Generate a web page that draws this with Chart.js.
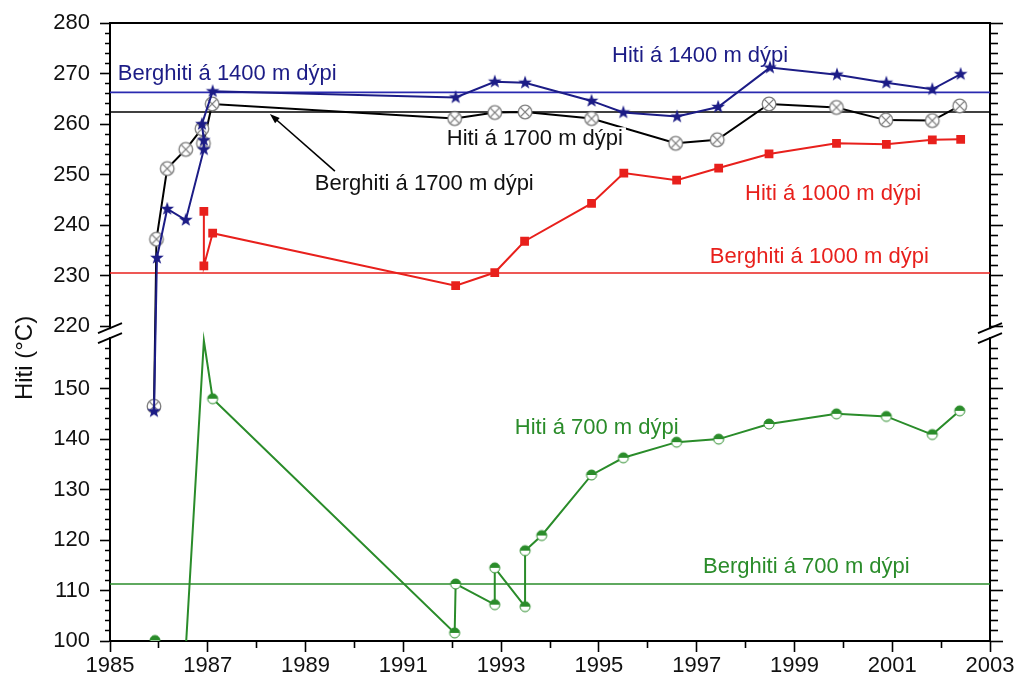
<!DOCTYPE html>
<html>
<head>
<meta charset="utf-8">
<script src="https://cdn.jsdelivr.net/npm/chart.js@4.4.1/dist/chart.umd.min.js"></script>
<style>
  html, body { margin: 0; padding: 0; background: #fff; }
  #wrap { width: 1020px; height: 683px; }
</style>
</head>
<body>
<div id="wrap"><canvas id="hitiChart" width="1020" height="683"></canvas></div>
<script>
/* mælingar – lesið af myndinni (ár, °C) */
const years1400 = [1985.9, 1985.96, 1986.17, 1986.55, 1986.92, 1986.92, 1986.88, 1987.1, 1992.07, 1992.87, 1993.49, 1994.85, 1995.5, 1996.6, 1997.44, 1998.5, 1999.87, 2000.88, 2001.82, 2002.4];
const temp1400  = [145.5, 233.5, 243.2, 241.0, 255.0, 256.8, 260.0, 266.5, 265.3, 268.4, 268.2, 264.6, 262.3, 261.5, 263.4, 271.2, 269.8, 268.2, 266.9, 269.9];

const years1700 = [1985.9, 1985.95, 1986.17, 1986.55, 1986.88, 1986.91, 1987.09, 1992.05, 1992.87, 1993.49, 1994.85, 1996.57, 1997.42, 1998.48, 1999.86, 2000.87, 2001.82, 2002.38];
const temp1700  = [146.5, 237.2, 251.2, 255.0, 259.1, 256.2, 264.0, 261.1, 262.3, 262.4, 261.1, 256.2, 256.9, 264.0, 263.3, 260.8, 260.7, 263.6];

const years1000 = [1986.92, 1986.92, 1987.1, 1992.07, 1992.87, 1993.48, 1994.85, 1995.51, 1996.59, 1997.45, 1998.48, 1999.86, 2000.88, 2001.82, 2002.4];
const temp1000  = [242.7, 231.9, 238.4, 228.0, 230.6, 236.8, 244.3, 250.3, 248.9, 251.3, 254.1, 256.2, 256.0, 256.9, 257.0];

const years700 = [1985.92, 1986.55, 1986.92, 1987.1, 1992.05, 1992.07, 1992.87, 1992.87, 1993.49, 1993.49, 1993.83, 1994.85, 1995.5, 1996.59, 1997.45, 1998.48, 1999.86, 2000.88, 2001.82, 2002.38];
const temp700  = [100.1, 98.5, 159.5, 148.0, 101.6, 111.3, 107.2, 114.5, 106.8, 117.9, 120.9, 132.9, 136.3, 139.4, 140.0, 143.0, 145.0, 144.5, 140.9, 145.6];

/* berghiti – láréttar línur */
const bergDepths = ['700', '1000', '1400', '1700'];
const bergTemps  = [111.3, 230.5, 266.3, 262.4];

/* ás-merkingar */
const xRange = [1985, 2003];
const yLabelsLow  = [100, 110, 120, 130, 140, 150];
const yLabelsHigh = [220, 230, 240, 250, 260, 270, 280];

/* brotinn y-ás: 160..217.6 er klippt út */
const BREAK_AT = 160;
const BREAK_SHIFT = 57.6;
const disp = v => (v > 190 ? v - BREAK_SHIFT : v);
const real = t => (t > BREAK_AT ? t + BREAK_SHIFT : t);

const yTickList = [];
for (let v = yLabelsLow[0]; v <= 158; v += 2) yTickList.push(v);
for (let v = yLabelsHigh[0]; v <= yLabelsHigh[yLabelsHigh.length - 1]; v += 2) yTickList.push(v);

const NAVY = '#1c1c86';
const BLUE = '#2a2ab0';
const RED = '#e8201c';
const GREEN = '#2a8c2a';
const FONT = '"Liberation Sans", Arial, sans-serif';

/* merki */
function markerCanvas(size, draw) {
    const c = document.createElement('canvas');
    c.width = c.height = size;
    const g = c.getContext('2d');
    g.translate(size / 2, size / 2);
    draw(g);
    return c;
}
const starMark = markerCanvas(16, g => {
    g.beginPath();
    for (let i = 0; i < 10; i++) {
        const r = i % 2 ? 2.9 : 7.2;
        const a = -Math.PI / 2 + i * Math.PI / 5;
        g.lineTo(r * Math.cos(a), r * Math.sin(a));
    }
    g.closePath();
    g.fillStyle = NAVY;
    g.fill();
});
const circXMark = markerCanvas(18, g => {
    g.beginPath();
    g.arc(0, 0, 6.8, 0, 2 * Math.PI);
    g.fillStyle = '#fff';
    g.fill();
    g.strokeStyle = '#7c7c7c';
    g.lineWidth = 1.3;
    g.stroke();
    const d = 4.6;
    g.beginPath();
    g.moveTo(-d, -d); g.lineTo(d, d);
    g.moveTo(d, -d); g.lineTo(-d, d);
    g.stroke();
});
const halfMark = markerCanvas(14, g => {
    g.beginPath();
    g.arc(0, 0, 5, 0, 2 * Math.PI);
    g.fillStyle = '#fff';
    g.fill();
    g.beginPath();
    g.arc(0, 0, 5, Math.PI, 2 * Math.PI);
    g.closePath();
    g.fillStyle = GREEN;
    g.fill();
    g.beginPath();
    g.arc(0, 0, 5, 0, 2 * Math.PI);
    g.strokeStyle = GREEN;
    g.lineWidth = 1;
    g.stroke();
});

const pts = (xs, ys) => xs.map((x, i) => ({ x: x, y: disp(ys[i]) }));

/* textar á myndinni (staðsetning í ár / °C) */
const textLabels = [
    { text: 'Berghiti á 1400 m dýpi', year: 1985.16, temp: 269.9, color: NAVY },
    { text: 'Hiti á 1400 m dýpi', year: 1995.27, temp: 273.5, color: NAVY },
    { text: 'Hiti á 1700 m dýpi', year: 1991.89, temp: 257.0, color: '#111', bg: true },
    { text: 'Berghiti á 1700 m dýpi', year: 1989.19, temp: 248.1, color: '#111' },
    { text: 'Hiti á 1000 m dýpi', year: 1997.99, temp: 246.1, color: RED },
    { text: 'Berghiti á 1000 m dýpi', year: 1997.27, temp: 233.7, color: RED },
    { text: 'Hiti á 700 m dýpi', year: 1993.28, temp: 142.2, color: GREEN },
    { text: 'Berghiti á 700 m dýpi', year: 1997.13, temp: 114.6, color: GREEN }
];
const arrow1700 = { from: [1989.6, 250.7], to: [1988.27, 262.0] };

const hitiPlugin = {
    id: 'hitiDecor',
    afterDatasetsDraw(chart) {
        const { ctx, scales: { x, y } } = chart;
        ctx.save();
        ctx.font = '22px ' + FONT;
        ctx.textBaseline = 'middle';
        textLabels.forEach(l => {
            const px = x.getPixelForValue(l.year);
            const py = y.getPixelForValue(disp(l.temp));
            if (l.bg) {
                const w = ctx.measureText(l.text).width;
                ctx.fillStyle = '#fff';
                ctx.fillRect(px - 3, py - 12, w + 6, 24);
            }
            ctx.fillStyle = l.color;
            ctx.fillText(l.text, px, py);
        });
        // ör að berghitalínu 1700 m
        const ax = x.getPixelForValue(arrow1700.from[0]), ay = y.getPixelForValue(disp(arrow1700.from[1]));
        const bx = x.getPixelForValue(arrow1700.to[0]), by = y.getPixelForValue(disp(arrow1700.to[1]));
        const ang = Math.atan2(by - ay, bx - ax);
        ctx.strokeStyle = '#000';
        ctx.lineWidth = 1.6;
        ctx.beginPath();
        ctx.moveTo(ax, ay);
        ctx.lineTo(bx - 6 * Math.cos(ang), by - 6 * Math.sin(ang));
        ctx.stroke();
        ctx.beginPath();
        ctx.moveTo(bx, by);
        ctx.lineTo(bx - 10 * Math.cos(ang) + 3.5 * Math.sin(ang), by - 10 * Math.sin(ang) - 3.5 * Math.cos(ang));
        ctx.lineTo(bx - 10 * Math.cos(ang) - 3.5 * Math.sin(ang), by - 10 * Math.sin(ang) + 3.5 * Math.cos(ang));
        ctx.closePath();
        ctx.fillStyle = '#000';
        ctx.fill();
        ctx.restore();
    },
    afterDraw(chart) {
        const { ctx, chartArea, scales: { y } } = chart;
        ctx.save();
        // brot á ásnum
        const by = y.getPixelForValue(BREAK_AT + 1);
        [chartArea.left, chartArea.right].forEach(bx => {
            ctx.fillStyle = '#fff';
            ctx.fillRect(bx - 2, by - 4, 4, 8);
            ctx.strokeStyle = '#000';
            ctx.lineWidth = 1.8;
            [-5, 5].forEach(off => {
                ctx.beginPath();
                ctx.moveTo(bx - 12, by + off + 5);
                ctx.lineTo(bx + 12, by + off - 5);
                ctx.stroke();
            });
        });
        // titill y-áss
        ctx.translate(25, 358);
        ctx.rotate(-Math.PI / 2);
        ctx.font = '24px ' + FONT;
        ctx.fillStyle = '#111';
        ctx.textAlign = 'center';
        ctx.textBaseline = 'middle';
        ctx.fillText('Hiti (°C)', 0, 0);
        ctx.restore();
    }
};

const isMajorY = tick => tick && Math.round(real(tick.value)) % 10 === 0;

const datasets = [
    { label: 'Hiti á 1400 m dýpi', data: pts(years1400, temp1400), borderColor: NAVY, borderWidth: 2,
      pointStyle: starMark, pointRadius: 6 },
    { label: 'Hiti á 1700 m dýpi', data: pts(years1700, temp1700), borderColor: '#000', borderWidth: 2,
      pointStyle: circXMark, pointRadius: 6 },
    { label: 'Hiti á 1000 m dýpi', data: pts(years1000, temp1000), borderColor: RED, borderWidth: 2,
      pointStyle: 'rect', pointRadius: 6.2, pointBorderWidth: 0, pointBackgroundColor: RED },
    { label: 'Hiti á 700 m dýpi', data: pts(years700, temp700), borderColor: GREEN, borderWidth: 2,
      pointStyle: halfMark,
      pointRadius: c => (c.raw && c.raw.y >= 100 && c.raw.y <= 158 ? 5 : 0) }
];
const bergColors = [GREEN, RED, BLUE, '#000'];
bergDepths.forEach((d, i) => {
    datasets.push({
        label: 'Berghiti á ' + d + ' m dýpi',
        data: xRange.map(yr => ({ x: yr, y: disp(bergTemps[i]) })),
        borderColor: bergColors[i], borderWidth: 1.6, pointRadius: 0
    });
});

Chart.defaults.font.family = FONT;

new Chart(document.getElementById('hitiChart').getContext('2d'), {
    type: 'line',
    data: { datasets: datasets },
    plugins: [hitiPlugin],
    options: {
        responsive: false,
        animation: false,
        devicePixelRatio: 1,
        layout: { padding: 0 },
        plugins: { legend: { display: false }, tooltip: { enabled: false } },
        elements: { line: { tension: 0 } },
        scales: {
            x: {
                type: 'linear', position: 'bottom', min: xRange[0], max: xRange[1],
                ticks: { stepSize: 1, autoSkip: false, maxRotation: 0, padding: 1, color: '#111',
                         font: { size: 22 }, callback: v => (v % 2 === 1 ? String(v) : '') },
                grid: { drawOnChartArea: false, tickLength: 11, tickWidth: 1.6, tickColor: '#000',
                        tickBorderDash: c => (c.tick && c.tick.value % 2 === 0 ? [6, 100] : []) },
                border: { color: '#000', width: 2 },
                afterFit: s => { s.height = 42; }
            },
            xTop: {
                type: 'linear', position: 'top', min: xRange[0], max: xRange[1],
                ticks: { display: false }, grid: { display: false },
                border: { color: '#000', width: 2 },
                afterFit: s => { s.height = 18; }
            },
            y: {
                type: 'linear', position: 'left', min: yLabelsLow[0], max: disp(280),
                afterBuildTicks: s => { s.ticks = yTickList.map(v => ({ value: disp(v) })); },
                ticks: { autoSkip: false, padding: 10, color: '#111', font: { size: 22 },
                         callback: v => { const r = Math.round(real(v)); return r % 10 === 0 ? String(r) : ''; } },
                grid: { drawOnChartArea: false, tickLength: 10, tickWidth: 1.6, tickColor: '#000',
                        tickBorderDash: c => (isMajorY(c.tick) ? [] : [0, 5, 5, 100]) },
                border: { color: '#000', width: 2 },
                afterFit: s => { s.width = 110; }
            },
            yRight: {
                type: 'linear', position: 'right', min: yLabelsLow[0], max: disp(280),
                afterBuildTicks: s => { s.ticks = yTickList.map(v => ({ value: disp(v) })); },
                ticks: { display: false, autoSkip: false },
                grid: { drawOnChartArea: false, tickLength: 13, tickWidth: 1.6, tickColor: '#000',
                        tickBorderDash: c => (isMajorY(c.tick) ? [] : [7, 100]) },
                border: { color: '#000', width: 2 },
                afterFit: s => { s.width = 30; }
            }
        }
    }
});
</script>
</body>
</html>
